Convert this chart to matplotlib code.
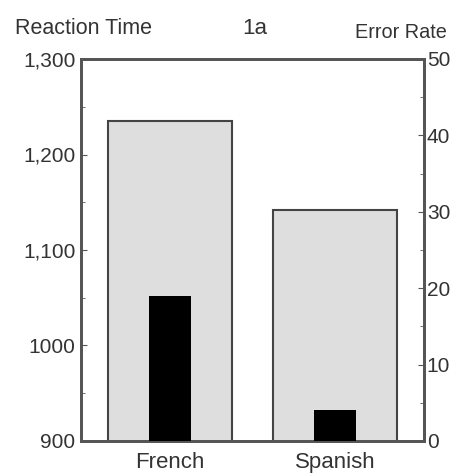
import matplotlib
matplotlib.use("Agg")
import matplotlib.pyplot as plt
from matplotlib.ticker import MultipleLocator, FixedLocator, FixedFormatter

plt.rcParams['font.family'] = ['Liberation Sans', 'DejaVu Sans']

categories = ["French", "Spanish"]
reaction_time = [1235, 1142]
error_rate = [19, 4]
rt_ticks = [900, 1000, 1100, 1200, 1300]
rt_labels = ["900", "1000", "1,100", "1,200", "1,300"]
er_ticks = [0, 10, 20, 30, 40, 50]

fig = plt.figure(figsize=(4.5, 4.75), dpi=100)
ax = fig.add_axes([81/450, 1-441/475, 343/450, 382/475])
ax2 = ax.twinx()

x = [0, 1]
ax.bar(x, reaction_time, width=0.75, bottom=0, color="#dedede", edgecolor="#444444", linewidth=1.5, zorder=2)
ax.set_ylim(900, 1300)
ax.set_xlim(-0.54, 1.54)
ax2.bar(x, error_rate, width=0.25, color="black", zorder=3)
ax2.set_ylim(0, 50)

ax.yaxis.set_major_locator(FixedLocator(rt_ticks))
ax.yaxis.set_major_formatter(FixedFormatter(rt_labels))
ax.yaxis.set_minor_locator(MultipleLocator(50))
ax2.yaxis.set_major_locator(FixedLocator(er_ticks))
ax2.yaxis.set_minor_locator(MultipleLocator(5))

ax.set_xticks(x)
ax.set_xticklabels(categories)
for a in (ax, ax2):
    for s in a.spines.values():
        s.set_color("#555555")
        s.set_linewidth(2)
ax.tick_params(axis='x', length=0, labelsize=16, colors="#333333", pad=8)
ax.tick_params(axis='y', which='major', direction='in', length=4, labelsize=15, colors="#555555", pad=4)
ax.tick_params(axis='y', which='minor', direction='in', length=3, colors="#555555")
ax2.tick_params(axis='y', which='major', direction='in', length=4, labelsize=15, colors="#555555", pad=2)
ax2.tick_params(axis='y', which='minor', direction='in', length=3, colors="#555555")
for lab in ax.get_yticklabels() + ax2.get_yticklabels() + ax.get_xticklabels():
    lab.set_color("#333333")

fig.text(15/450, 1-28/475, "Reaction Time", fontsize=15.5, color="#333333", va='center', ha='left')
fig.text(255/450, 1-28/475, "1a", fontsize=16, color="#333333", va='center', ha='center')
fig.text(447/450, 1-32/475, "Error Rate", fontsize=14.3, color="#333333", va='center', ha='right')

fig.savefig("out.png", dpi=100)
